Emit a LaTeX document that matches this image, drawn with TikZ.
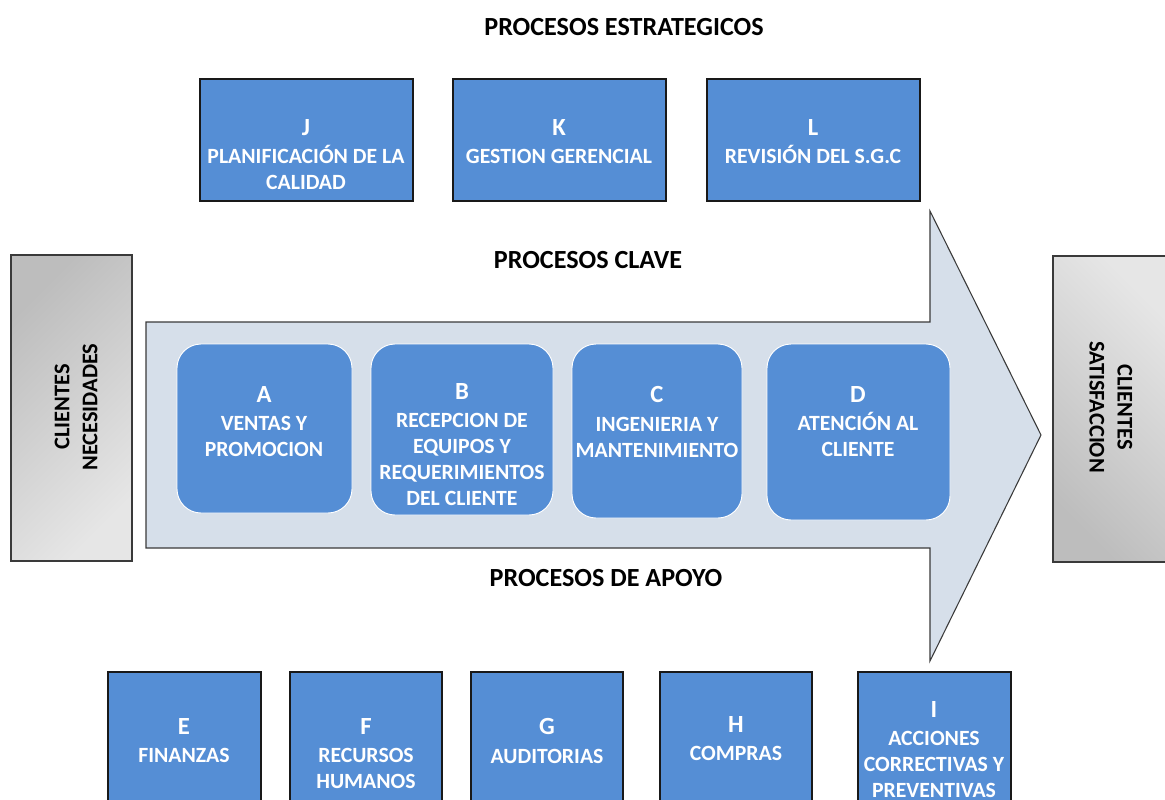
\documentclass[tikz,border=0pt]{standalone}
\usepackage{fontspec}
\setmainfont{Carlito}
\usetikzlibrary{fit}

\definecolor{procblue}{HTML}{558ED5}
\definecolor{arrowfill}{HTML}{D6DFEA}
\definecolor{edgegray}{HTML}{3A3A3A}
\definecolor{graydark}{HTML}{BDBDBD}
\definecolor{graylight}{HTML}{E6E6E6}

\newcommand\procletter[1]{{\fontsize{18.5pt}{20pt}\selectfont #1}\\[2pt]}

\tikzset{
  sqbox/.style={draw=black!90, line width=0.9pt, fill=procblue, inner sep=0pt},
  rndbox/.style={draw=white, line width=0.7pt, fill=procblue, inner sep=0pt, rounded corners=18pt},
  clientbox/.style={draw=edgegray, line width=1.1pt, inner sep=0pt, shade, shading=axis},
  boxtxt/.style={text=white, font=\fontsize{16.3pt}{19.5pt}\selectfont\bfseries, align=center, inner sep=0pt, anchor=north},
  clienttxt/.style={text=black, font=\fontsize{16.8pt}{21pt}\selectfont\bfseries, align=center, inner sep=0pt},
  heading/.style={text=black, font=\fontsize{19.6pt}{22pt}\selectfont\bfseries, inner sep=0pt},
  flowarrow/.style={fill=arrowfill, draw=edgegray, line width=0.8pt, line join=miter}
}

\begin{document}
\begin{tikzpicture}[x=0.75pt, y=-0.75pt]
\useasboundingbox (0,0) rectangle (1165,800);
\clip (0,0) rectangle (1165,800);

% headings
\node[heading] (hstrat) at (624,27) {PROCESOS ESTRATEGICOS};
\node[heading] (hclave) at (588,260) {PROCESOS CLAVE};
\node[heading] (hapoyo) at (606,578) {PROCESOS DE APOYO};

% strategic processes
\node[sqbox, fit={(200,79) (413,201)}] (J) {};
\node[sqbox, fit={(453,79) (666,201)}] (K) {};
\node[sqbox, fit={(707,79) (920,201)}] (L) {};
\node[boxtxt] (Jt) at (306,119) {\procletter{J}PLANIFICACIÓN DE LA\\CALIDAD};
\node[boxtxt] (Kt) at (559,119) {\procletter{K}GESTION GERENCIAL};
\node[boxtxt] (Lt) at (813,119) {\procletter{L}REVISIÓN DEL S.G.C};

% main process arrow
\path[flowarrow] (146,322) -- (930,322) -- (930,211) -- (1041,435)
  -- (930,661) -- (930,548) -- (146,548) -- cycle;

% key processes
\node[rndbox, fit={(177,344) (352,513)}] (A) {};
\node[rndbox, fit={(371,344) (553,515)}] (B) {};
\node[rndbox, fit={(572,344) (742,518)}] (C) {};
\node[rndbox, fit={(767,344) (950,520)}] (D) {};
\node[boxtxt] (At) at (264,386) {\procletter{A}VENTAS Y\\PROMOCION};
\node[boxtxt] (Bt) at (462,383) {\procletter{B}RECEPCION DE\\EQUIPOS Y\\REQUERIMIENTOS\\DEL CLIENTE};
\node[boxtxt] (Ct) at (657,386) {\procletter{C}INGENIERIA Y\\MANTENIMIENTO};
\node[boxtxt] (Dt) at (858,386) {\procletter{D}ATENCIÓN AL\\CLIENTE};

% customers
\node[clientbox, top color=graydark, bottom color=graylight, shading angle=45,
      fit={(11,255) (132,561)}] (nec) {};
\node[clientbox, top color=graylight, bottom color=graydark, shading angle=-45,
      fit={(1053,256) (1166,562)}] (sat) {};
\node[clienttxt, rotate=90] (nect) at (76,407) {CLIENTES\\NECESIDADES};
\node[clienttxt, rotate=-90] (satt) at (1111,407) {CLIENTES\\SATISFACCION};

% support processes
\node[sqbox, fit={(108,672) (261,830)}] (E) {};
\node[sqbox, fit={(290,672) (442,830)}] (F) {};
\node[sqbox, fit={(471,672) (623,830)}] (G) {};
\node[sqbox, fit={(660,672) (812,830)}] (H) {};
\node[sqbox, fit={(858,672) (1011,830)}] (I) {};
\node[boxtxt] (Et) at (184,718) {\procletter{E}FINANZAS};
\node[boxtxt] (Ft) at (366,718) {\procletter{F}RECURSOS\\HUMANOS};
\node[boxtxt] (Gt) at (547,718) {\procletter{G}AUDITORIAS};
\node[boxtxt] (Ht) at (736,716) {\procletter{H}COMPRAS};
\node[boxtxt] (It) at (934,701) {\procletter{I}ACCIONES\\CORRECTIVAS Y\\PREVENTIVAS};
\end{tikzpicture}
\end{document}
